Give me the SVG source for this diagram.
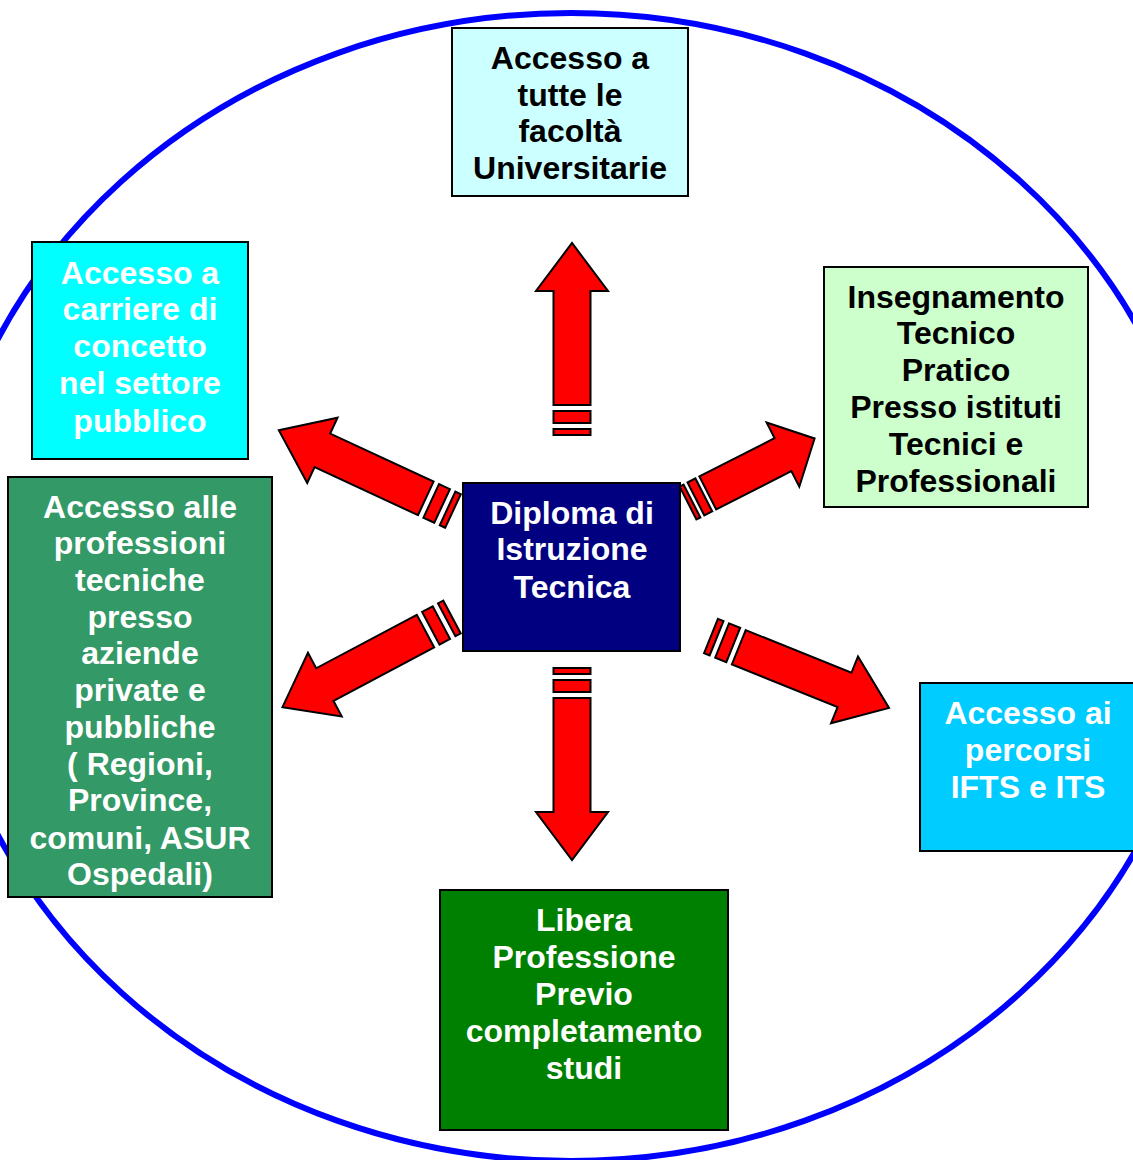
<svg xmlns="http://www.w3.org/2000/svg" xmlns:xlink="http://www.w3.org/1999/xlink" width="1133" height="1160" viewBox="0 0 1133 1160">
<style>
.box{stroke:#000;stroke-width:2}
.t{font-family:"Liberation Sans",Arial,sans-serif;font-weight:bold;font-size:32px;text-anchor:middle}
.w{fill:#fff}
.k{fill:#000}
.ar{fill:#ff0000;stroke:#000;stroke-width:2;stroke-linejoin:miter}
</style>
<defs>
<g id="arrow">
<rect class="ar" x="0" y="-18.5" width="6" height="37" vector-effect="non-scaling-stroke"/>
<rect class="ar" x="12" y="-18.5" width="12" height="37" vector-effect="non-scaling-stroke"/>
<polygon class="ar" points="30,-18.5 144,-18.5 144,-36 192,0 144,36 144,18.5 30,18.5" vector-effect="non-scaling-stroke"/>
</g>
</defs>
<rect width="1133" height="1160" fill="#fff"/>
<ellipse cx="571" cy="587" rx="635.5" ry="574" fill="none" stroke="#0000ff" stroke-width="6"/>
<g id="connectors">
<use xlink:href="#arrow" transform="translate(572,435) rotate(-90)"/>
<use xlink:href="#arrow" transform="translate(572,668) rotate(90)"/>
<use xlink:href="#arrow" transform="translate(453,511) rotate(204.9)"/>
<use xlink:href="#arrow" transform="translate(452,617) rotate(152)"/>
<use xlink:href="#arrow" transform="translate(711,636) rotate(22)"/>
<use xlink:href="#arrow" transform="translate(688,503) rotate(-27) scale(0.74,1)"/>
</g>
<g id="node-universita">
<rect class="box" x="452" y="28" width="236" height="168" fill="#ccffff"/>
<text class="t k" x="570" y="69">Accesso a</text>
<text class="t k" x="570" y="106">tutte le</text>
<text class="t k" x="570" y="142">facoltà</text>
<text class="t k" x="570" y="179">Universitarie</text>
</g>
<g id="node-carriere">
<rect class="box" x="32" y="242" width="216" height="217" fill="#00ffff"/>
<text class="t w" x="140" y="284">Accesso a</text>
<text class="t w" x="140" y="320">carriere di</text>
<text class="t w" x="140" y="357">concetto</text>
<text class="t w" x="140" y="394">nel settore</text>
<text class="t w" x="140" y="432">pubblico</text>
</g>
<g id="node-insegnamento">
<rect class="box" x="824" y="267" width="264" height="240" fill="#ccffcc"/>
<text class="t k" x="956" y="308">Insegnamento</text>
<text class="t k" x="956" y="344">Tecnico</text>
<text class="t k" x="956" y="381">Pratico</text>
<text class="t k" x="956" y="418">Presso istituti</text>
<text class="t k" x="956" y="455">Tecnici e</text>
<text class="t k" x="956" y="492">Professionali</text>
</g>
<g id="node-professioni">
<rect class="box" x="8" y="477" width="264" height="420" fill="#339966"/>
<text class="t w" x="140" y="518">Accesso alle</text>
<text class="t w" x="140" y="554">professioni</text>
<text class="t w" x="140" y="591">tecniche</text>
<text class="t w" x="140" y="628">presso</text>
<text class="t w" x="140" y="664">aziende</text>
<text class="t w" x="140" y="701">private e</text>
<text class="t w" x="140" y="738">pubbliche</text>
<text class="t w" x="140" y="775">( Regioni,</text>
<text class="t w" x="140" y="811">Province,</text>
<text class="t w" x="140" y="849">comuni, ASUR</text>
<text class="t w" x="140" y="885">Ospedali)</text>
</g>
<g id="node-diploma">
<rect class="box" x="463" y="483" width="217" height="168" fill="#000080"/>
<text class="t w" x="572" y="524">Diploma di</text>
<text class="t w" x="572" y="560">Istruzione</text>
<text class="t w" x="572" y="598">Tecnica</text>
</g>
<g id="node-ifts">
<rect class="box" x="920" y="683" width="220" height="168" fill="#00ccff"/>
<text class="t w" x="1028" y="724">Accesso ai</text>
<text class="t w" x="1028" y="761">percorsi</text>
<text class="t w" x="1028" y="798">IFTS e ITS</text>
</g>
<g id="node-libera">
<rect class="box" x="440" y="890" width="288" height="240" fill="#008000"/>
<text class="t w" x="584" y="931">Libera</text>
<text class="t w" x="584" y="968">Professione</text>
<text class="t w" x="584" y="1005">Previo</text>
<text class="t w" x="584" y="1042">completamento</text>
<text class="t w" x="584" y="1079">studi</text>
</g>
</svg>
